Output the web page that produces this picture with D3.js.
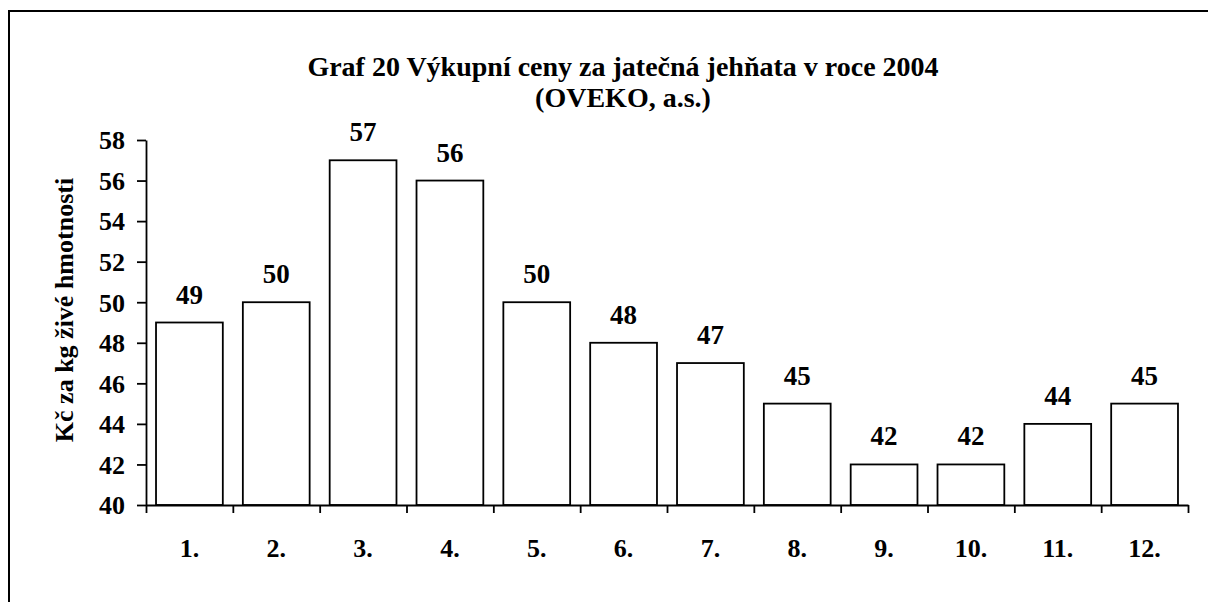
<!DOCTYPE html>
<html>
<head>
<meta charset="utf-8">
<script src="https://cdn.jsdelivr.net/npm/d3@7"></script>
<style>
  body { margin: 0; background: #fff; overflow: hidden; }
  svg { display: block; }
  text { font-family: "Liberation Serif", "Times New Roman", serif; font-weight: bold; fill: #000; }
</style>
</head>
<body>
<div id="chart"></div>
<script>
    //data
    var months = ['1.', '2.', '3.', '4.', '5.', '6.', '7.', '8.', '9.', '10.', '11.', '12.'];
    var prices = [49, 50, 57, 56, 50, 48, 47, 45, 42, 42, 44, 45];
    var yTicks = [40, 42, 44, 46, 48, 50, 52, 54, 56, 58];
    var titleLines = ['Graf 20 Výkupní ceny za jatečná jehňata v roce 2004', '(OVEKO, a.s.)'];
    var yLabel = 'Kč za kg živé hmotnosti';

    //size
    var width = 1208;
    var height = 602;
    var plot = {left: 146, right: 1188, top: 140, bottom: 505};

    var svg = d3.select('#chart').append('svg')
        .attr('width', width)
        .attr('height', height);

    //outer frame, only left and top edges are visible
    svg.append('path')
        .attr('d', 'M9,' + height + 'V11H' + width)
        .attr('fill', 'none')
        .attr('stroke', '#000')
        .attr('stroke-width', 2);

    //scales
    var x = d3.scaleBand()
        .domain(months)
        .range([plot.left, plot.right])
        .paddingInner(0.3 / 1.3)
        .paddingOuter(0.15 / 1.3);

    var xEdges = d3.scaleLinear()
        .domain([0, months.length])
        .range([plot.left, plot.right]);

    var y = d3.scaleLinear()
        .domain([40, 58])
        .range([plot.bottom, plot.top]);

    //bars
    svg.append('g').selectAll('rect')
        .data(prices)
        .enter().append('rect')
        .attr('x', function(d, i) { return x(months[i]); })
        .attr('y', function(d) { return y(d); })
        .attr('width', x.bandwidth())
        .attr('height', function(d) { return y(40) - y(d); })
        .attr('fill', '#fff')
        .attr('stroke', '#000')
        .attr('stroke-width', 1.8);

    //value labels
    svg.append('g').selectAll('text')
        .data(prices)
        .enter().append('text')
        .attr('x', function(d, i) { return x(months[i]) + x.bandwidth() / 2; })
        .attr('y', function(d) { return y(d) - 19; })
        .attr('text-anchor', 'middle')
        .style('font-size', '27px')
        .text(function(d) { return d; });

    //y axis
    var yAxis = svg.append('g')
        .attr('transform', 'translate(' + plot.left + ',0)')
        .call(d3.axisLeft(y).tickValues(yTicks).tickSize(9).tickSizeOuter(0).tickPadding(12));

    yAxis.selectAll('text')
        .style('font-size', '26px')
        .attr('dy', '0.34em');

    //x axis, ticks between categories
    svg.append('g')
        .attr('transform', 'translate(0,' + plot.bottom + ')')
        .call(d3.axisBottom(xEdges).ticks(months.length).tickFormat('').tickSize(8).tickSizeOuter(0));

    svg.selectAll('.domain, .tick line')
        .attr('stroke', '#000')
        .attr('stroke-width', 1.8);

    //month labels
    svg.append('g').selectAll('text')
        .data(months)
        .enter().append('text')
        .attr('x', function(d) { return x(d) + x.bandwidth() / 2; })
        .attr('y', 557)
        .attr('text-anchor', 'middle')
        .style('font-size', '26px')
        .text(function(d) { return d; });

    //title
    svg.append('g').selectAll('text')
        .data(titleLines)
        .enter().append('text')
        .attr('x', 623)
        .attr('y', function(d, i) { return 76 + i * 31; })
        .attr('text-anchor', 'middle')
        .style('font-size', '28px')
        .text(function(d) { return d; });

    //y axis title
    svg.append('text')
        .attr('transform', 'translate(73,310) rotate(-90)')
        .attr('text-anchor', 'middle')
        .style('font-size', '26px')
        .text(yLabel);
</script>
</body>
</html>
